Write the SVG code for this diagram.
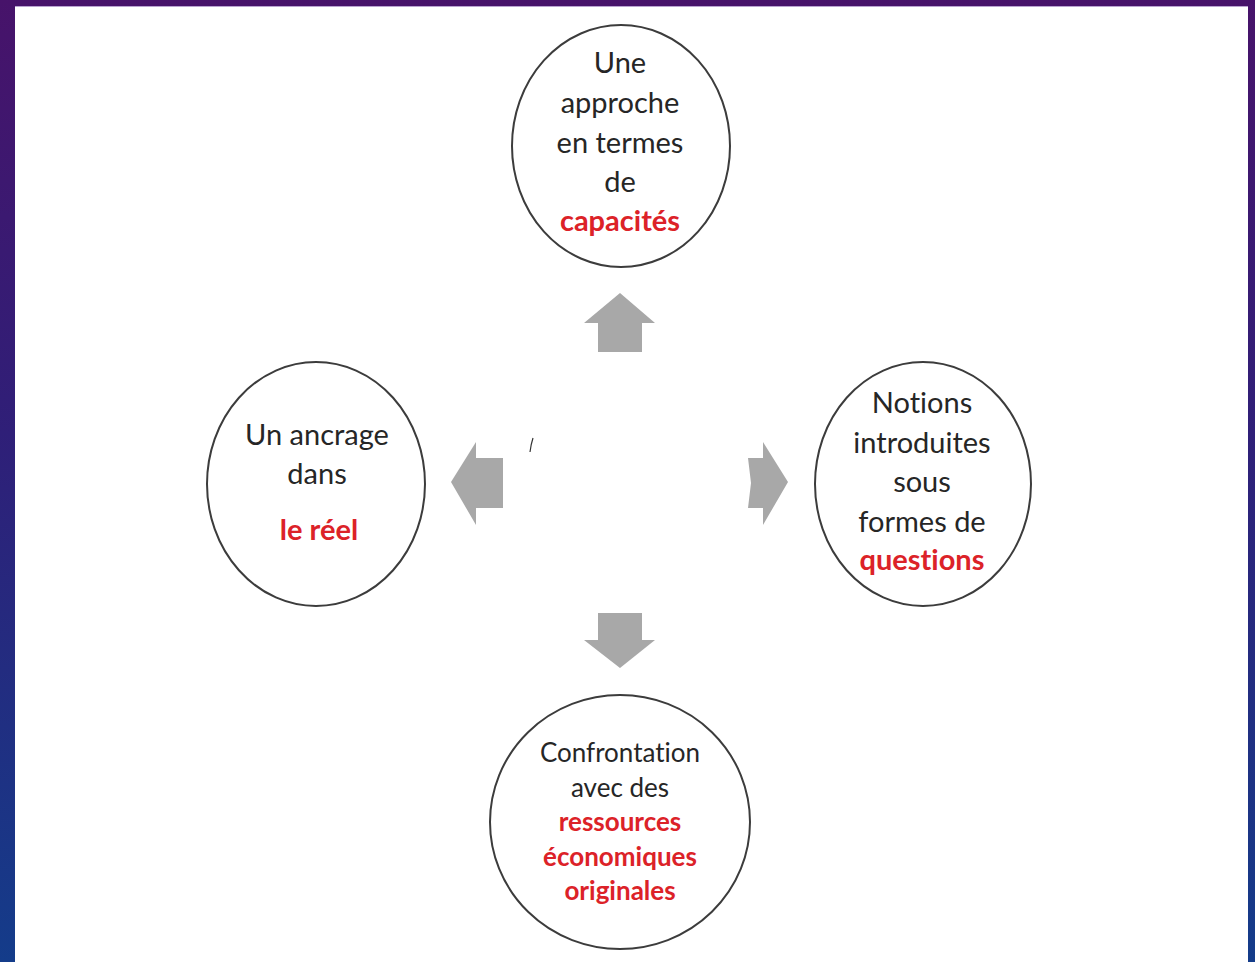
<svg xmlns="http://www.w3.org/2000/svg" width="1255" height="962" viewBox="0 0 1255 962">
<defs>
<linearGradient id="bg" x1="0" y1="0" x2="0" y2="1">
<stop offset="0" stop-color="#47136a"/>
<stop offset="0.45" stop-color="#2f1f78"/>
<stop offset="1" stop-color="#143c8a"/>
</linearGradient>
</defs>
<style>
.node ellipse{fill:#ffffff;stroke:#3c3c3c;stroke-width:2}
.t{font-family:"Lato","Open Sans","Liberation Sans",sans-serif;font-size:29px;fill:#262626;text-anchor:middle;font-variant-ligatures:none;font-feature-settings:"liga" 0}
.s{font-size:26px}
.r{fill:#dc2228;font-weight:bold}
.arrow{fill:#a8a8a8}
</style>
<rect x="0" y="0" width="1255" height="962" fill="url(#bg)"/>
<rect x="15" y="6" width="1233" height="956" fill="#ffffff"/>
<line x1="15" y1="6.5" x2="1248" y2="6.5" stroke="#b9a3d0" stroke-width="1"/>
<g id="connectors">
<polygon class="arrow" points="620,293 655,323 642,323 642,352 598,352 598,323 584,323"/>
<polygon class="arrow" points="451,482 476,442 476,458 503,458 503,508 476,508 476,525"/>
<polygon class="arrow" points="788,482 763,442 763,458 748,458 751,483 748,508 763,508 763,525"/>
<polygon class="arrow" points="620,668 655,640 642,640 642,613 598,613 598,640 584,640"/>
<path d="M533,438 Q531,444 530,452" fill="none" stroke="#333" stroke-width="1.2"/>
</g>
<g id="node-top" class="node">
<ellipse cx="621" cy="146" rx="109" ry="121"/>
<text class="t" x="620" y="73">Une</text>
<text class="t" x="620" y="113">approche</text>
<text class="t" x="620" y="153">en termes</text>
<text class="t" x="620" y="192">de</text>
<text class="t r" x="620" y="231">capacités</text>
</g>
<g id="node-left" class="node">
<ellipse cx="316" cy="484" rx="109" ry="122"/>
<text class="t" x="317" y="445">Un ancrage</text>
<text class="t" x="317" y="484">dans</text>
<text class="t r" x="319" y="540">le réel</text>
</g>
<g id="node-right" class="node">
<ellipse cx="923" cy="484" rx="108" ry="122"/>
<text class="t" x="922" y="413">Notions</text>
<text class="t" x="922" y="453">introduites</text>
<text class="t" x="922" y="492">sous</text>
<text class="t" x="922" y="532">formes de</text>
<text class="t r" x="922" y="570">questions</text>
</g>
<g id="node-bottom" class="node">
<ellipse cx="620" cy="822" rx="130" ry="127"/>
<text class="t s" x="620" y="762">Confrontation</text>
<text class="t s" x="620" y="797">avec des</text>
<text class="t s r" x="620" y="831">ressources</text>
<text class="t s r" x="620" y="866">économiques</text>
<text class="t s r" x="620" y="900">originales</text>
</g>
</svg>
